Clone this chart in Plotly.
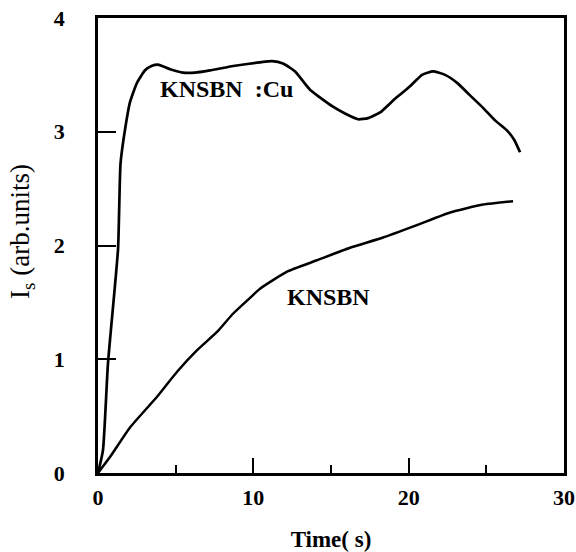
import plotly.graph_objects as go

# KNSBN:Cu curve (time in s, signal in arb. units)
cu_t = [0.0, 0.32, 0.64, 1.29, 1.45, 1.74, 2.06, 2.51, 3.03, 3.48, 3.86, 4.64, 5.47,
        6.25, 7.21, 8.82, 10.43, 11.20, 11.91, 12.69, 13.65, 15.13, 15.90, 16.74,
        17.39, 18.16, 19.12, 20.09, 20.86, 21.57, 22.34, 23.12, 23.95, 24.79,
        25.56, 26.34, 26.79, 27.17]
cu_i = [0.0, 0.20, 0.96, 1.97, 2.72, 3.02, 3.26, 3.43, 3.54, 3.58, 3.59, 3.55, 3.52,
        3.52, 3.54, 3.58, 3.61, 3.62, 3.60, 3.53, 3.37, 3.22, 3.16, 3.11,
        3.12, 3.17, 3.29, 3.40, 3.50, 3.53, 3.50, 3.43, 3.32, 3.21,
        3.10, 3.01, 2.93, 2.82]

# KNSBN curve
kn_t = [0.0, 0.77, 2.06, 3.80, 5.09, 6.38, 7.66, 8.69, 9.79, 10.43, 12.17, 14.10,
        16.23, 18.35, 20.54, 22.67, 24.79, 26.72]
kn_i = [0.0, 0.14, 0.40, 0.67, 0.89, 1.08, 1.24, 1.40, 1.54, 1.62, 1.77, 1.87,
        1.98, 2.07, 2.18, 2.29, 2.36, 2.39]

x_ticks = [0, 10, 20, 30]
y_ticks = [0, 1, 2, 3, 4]

SERIF = "Liberation Serif"

fig = go.Figure()
fig.add_trace(go.Scatter(x=cu_t, y=cu_i, mode="lines", line=dict(color="black", width=2.7, shape="spline", smoothing=0.5), showlegend=False))
fig.add_trace(go.Scatter(x=kn_t, y=kn_i, mode="lines", line=dict(color="black", width=2.5, shape="spline", smoothing=0.5), showlegend=False))

fig.add_annotation(x=3.86, y=3.38, text="<b>KNSBN  :Cu</b>", showarrow=False, xanchor="left", yanchor="middle",
                   font=dict(family=SERIF, size=24, color="black"))
fig.add_annotation(x=12.04, y=1.55, text="<b>KNSBN</b>", showarrow=False, xanchor="left", yanchor="middle",
                   font=dict(family=SERIF, size=24, color="black"))

# y-axis title placed to match the reference position
fig.add_annotation(xref="paper", yref="paper", x=-0.163, y=0.53, text="I<sub>s</sub> (arb.units)",
                   textangle=-90, showarrow=False, xanchor="center", yanchor="middle",
                   font=dict(family=SERIF, size=27, color="black"))

fig.update_layout(
    width=576, height=552,
    margin=dict(l=98, r=12, t=18, b=79, autoexpand=False),
    paper_bgcolor="white", plot_bgcolor="white",
    font=dict(family=SERIF, color="black"),
)
fig.update_xaxes(
    range=[0, 30], tickvals=x_ticks, ticktext=[f"<b>{v}</b>" for v in x_ticks],
    ticks="inside", ticklen=15, tickwidth=2, tickcolor="black",
    minor=dict(dtick=5, ticks="inside", ticklen=8, tickwidth=2, tickcolor="black"),
    showline=True, linecolor="black", linewidth=2.5, mirror=True,
    showgrid=False, zeroline=False, automargin=False,
    tickfont=dict(family=SERIF, size=22, color="black"), ticklabelstandoff=3,
    title=dict(text="<b>Time( s)</b>", font=dict(family=SERIF, size=23, color="black"), standoff=30),
)
fig.update_yaxes(
    range=[0, 4], tickvals=y_ticks, ticktext=[f"<b>{v}</b>" for v in y_ticks],
    ticks="inside", ticklen=18, tickwidth=2, tickcolor="black",
    showline=True, linecolor="black", linewidth=2.5, mirror=True,
    showgrid=False, zeroline=False, automargin=False,
    tickfont=dict(family=SERIF, size=22, color="black"), ticklabelstandoff=26,
)

fig.write_html("out.html")
